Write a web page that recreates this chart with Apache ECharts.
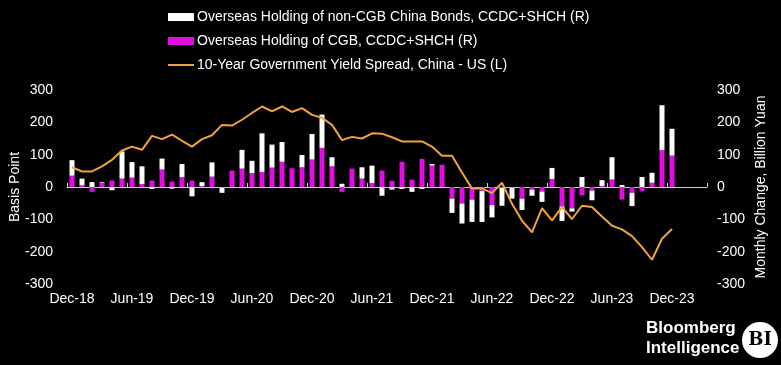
<!DOCTYPE html>
<html><head><meta charset="utf-8">
<script src="https://cdn.jsdelivr.net/npm/echarts@6/dist/echarts.min.js"></script>
<style>html,body{margin:0;padding:0;background:#000;}#c{width:781px;height:365px;}</style>
</head><body><div id="c"></div>
<script>
const months = ['Dec-18','Jan-19','Feb-19','Mar-19','Apr-19','May-19','Jun-19','Jul-19','Aug-19','Sep-19','Oct-19','Nov-19',
 'Dec-19','Jan-20','Feb-20','Mar-20','Apr-20','May-20','Jun-20','Jul-20','Aug-20','Sep-20','Oct-20','Nov-20',
 'Dec-20','Jan-21','Feb-21','Mar-21','Apr-21','May-21','Jun-21','Jul-21','Aug-21','Sep-21','Oct-21','Nov-21',
 'Dec-21','Jan-22','Feb-22','Mar-22','Apr-22','May-22','Jun-22','Jul-22','Aug-22','Sep-22','Oct-22','Nov-22',
 'Dec-22','Jan-23','Feb-23','Mar-23','Apr-23','May-23','Jun-23','Jul-23','Aug-23','Sep-23','Oct-23','Nov-23','Dec-23'];
const padCats = ['', '', ''];
const cgb = [35,5,-15,13,20,26,29,9,20,54,17,31,
 20,3,32,-2,51,57,43,46,60,78,58,61,
 85,121,64,-15,57,26,12,51,19,78,23,87,
 66,69,-36,-51,-39,-12,-56,-3,-2,-36,-8,-14,
 25,-60,-66,-26,-11,3,23,-39,-18,-13,13,114,97];
const nonCgb = [48,21,15,2,-10,84,48,55,-6,34,-5,40,
 -29,12,44,-16,0,58,38,120,71,61,0,38,
 79,103,28,10,0,35,54,-27,-8,-6,-15,-6,
 5,0,-44,-62,-69,-96,-38,-55,-34,-35,-19,-32,
 34,-45,-10,31,-30,18,69,6,-41,31,31,139,83];
const spread = [61,48,48,64,84,113,125,115,158,148,162,143,
 125,148,160,192,190,208,229,249,234,249,232,244,
 223,214,192,145,155,150,166,165,154,141,141,141,
 125,97,97,45,-5,-4,-19,13,-52,-104,-140,-65,
 -103,-62,-99,-58,-62,-91,-120,-131,-152,-186,-225,-160,-130];
const yTicks = {min:-300, max:300, interval:100};
const names = {
  non: 'Overseas Holding of non-CGB China Bonds, CCDC+SHCH (R)',
  cgb: 'Overseas Holding of CGB, CCDC+SHCH (R)',
  spread: '10-Year Government Yield Spread, China - US (L)'
};

const cats = months.concat(padCats);
const FF = 'Liberation Sans, Arial, sans-serif';
const chart = echarts.init(document.getElementById('c'), null, {renderer:'canvas'});
chart.setOption({
  backgroundColor:'#000',
  animation:false,
  textStyle:{fontFamily:FF, color:'#fff'},
  legend:{
    orient:'vertical', left:162, top:5, itemGap:10, itemWidth:26, itemHeight:8,
    textStyle:{color:'#fff', fontSize:14, fontFamily:FF, padding:[0,0,0,-2]},
    data:[{name:names.non, icon:'rect'},{name:names.cgb, icon:'rect'},
          {name:names.spread, itemStyle:{opacity:0}}]
  },
  grid:{left:67, right:74, top:90, bottom:81, containLabel:false, outerBoundsMode:'none'},
  xAxis:[
    {type:'category', data:cats, boundaryGap:true, position:'bottom',
     axisLine:{show:false, onZero:false}, axisTick:{show:false},
     axisLabel:{color:'#fff', fontSize:14, fontFamily:FF, interval:5, margin:8}},
    {type:'category', data:cats, boundaryGap:true,
     axisLine:{show:true, onZero:true, lineStyle:{color:'#d0d0d0', width:1}},
     axisTick:{show:true, interval:5, length:4, lineStyle:{color:'#d0d0d0'}},
     axisLabel:{show:false}}
  ],
  yAxis:[
    {type:'value', position:'left', min:yTicks.min, max:yTicks.max, interval:yTicks.interval,
     splitLine:{show:false}, axisLine:{show:false}, axisTick:{show:false},
     axisLabel:{color:'#fff', fontSize:14, fontFamily:FF, margin:14},
     name:'Basis Point', nameLocation:'middle', nameRotate:90, nameGap:45, nameMoveOverlap:false,
     nameTextStyle:{color:'#fff', fontSize:14, fontFamily:FF}},
    {type:'value', position:'right', min:yTicks.min, max:yTicks.max, interval:yTicks.interval,
     splitLine:{show:false}, axisLine:{show:false}, axisTick:{show:false},
     axisLabel:{color:'#fff', fontSize:14, fontFamily:FF, margin:10},
     name:'Monthly Change, Billion Yuan', nameLocation:'middle', nameRotate:90, nameGap:47, nameMoveOverlap:false,
     nameTextStyle:{color:'#fff', fontSize:14, fontFamily:FF}}
  ],
  series:[
    {name:names.cgb, type:'bar', stack:'h', xAxisIndex:0, yAxisIndex:1, data:cgb, barWidth:5,
     itemStyle:{color:'#e30ce3'}},
    {name:names.non, type:'bar', stack:'h', xAxisIndex:0, yAxisIndex:1, data:nonCgb, barWidth:5,
     itemStyle:{color:'#ffffff'}},
    {name:names.spread, type:'line', xAxisIndex:0, yAxisIndex:0, data:spread, symbol:'none',
     lineStyle:{color:'#f2a23a', width:2}, itemStyle:{color:'#f2a23a'}, z:5}
  ],
  graphic:[
    {type:'text', left:646, top:320, style:{text:'Bloomberg', fill:'#fff', font:'bold 17px '+FF}},
    {type:'text', left:646, top:340, style:{text:'Intelligence', fill:'#fff', font:'bold 17px '+FF}},
    {type:'circle', shape:{cx:760, cy:340, r:18}, style:{fill:'#fff'}},
    {type:'text', x:760, y:340, style:{text:'BI', fill:'#000', font:'bold 18px DejaVu Serif, serif', align:'center', verticalAlign:'middle'}}
  ]
});
</script></body></html>
